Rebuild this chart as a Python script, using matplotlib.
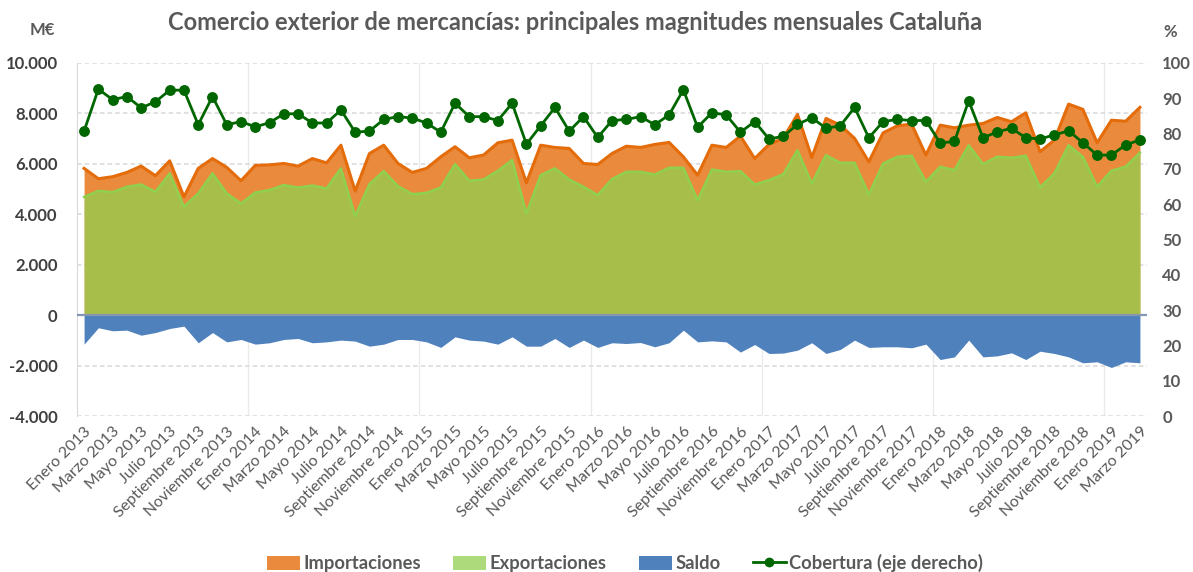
import matplotlib
matplotlib.use("Agg")
import matplotlib.pyplot as plt
from matplotlib.patches import Patch
from matplotlib.lines import Line2D
from matplotlib.ticker import FuncFormatter, MultipleLocator

plt.rcParams['font.family'] = ['Lato', 'DejaVu Sans']

# Meses de enero 2013 a marzo 2019 (millones de euros)
meses = ['Enero', 'Febrero', 'Marzo', 'Abril', 'Mayo', 'Junio', 'Julio',
         'Agosto', 'Septiembre', 'Octubre', 'Noviembre', 'Diciembre']
anios = [2013, 2014, 2015, 2016, 2017, 2018, 2019]

importaciones = [5820, 5410, 5490, 5660, 5910, 5530, 6120, 4690, 5820, 6210, 5860, 5330,
                 5940, 5960, 6015, 5910, 6210, 6040, 6740, 4920, 6410, 6740, 6015, 5660,
                 5820, 6280, 6680, 6240, 6350, 6835, 6940, 5250, 6740, 6650, 6610, 6015,
                 5975, 6410, 6700, 6650, 6770, 6850, 6280, 5550, 6740, 6650, 7100, 6210,
                 6770, 7020, 7960, 6250, 7800, 7535, 7010, 6080, 7230, 7510, 7575, 6350,
                 7535, 7430, 7535, 7600, 7840, 7670, 8025, 6480, 6940, 8370, 8160, 6835,
                 7730, 7690, 8240]

exportaciones = [4690, 4930, 4880, 5090, 5180, 4890, 5620, 4300, 4825, 5620, 4825, 4430,
                 4865, 4960, 5160, 5060, 5140, 5025, 5820, 3930, 5195, 5710, 5115, 4800,
                 4850, 5060, 5990, 5330, 5380, 5725, 6150, 4030, 5550, 5820, 5380, 5090,
                 4760, 5395, 5685, 5685, 5580, 5845, 5845, 4560, 5775, 5685, 5710, 5180,
                 5355, 5585, 6545, 5220, 6345, 6040, 6040, 4785, 6015, 6280, 6320, 5290,
                 5885, 5750, 6740, 5990, 6280, 6240, 6320, 5065, 5620, 6740, 6280, 5090,
                 5725, 5885, 6440]

saldo = [-1150, -500, -620, -595, -795, -690, -530, -435, -1095, -690, -1060, -965,
         -1150, -1095, -965, -925, -1095, -1060, -990, -1030, -1230, -1150, -965, -965,
         -1060, -1280, -860, -990, -1030, -1150, -860, -1230, -1230, -925, -1280, -990,
         -1280, -1095, -1125, -1085, -1255, -1095, -595, -1060, -1020, -1060, -1465, -1165,
         -1520, -1505, -1390, -1095, -1520, -1360, -990, -1280, -1255, -1255, -1295, -1150,
         -1760, -1655, -990, -1655, -1615, -1495, -1760, -1430, -1520, -1655, -1890, -1850,
         -2075, -1850, -1890]

cobertura = [80.7, 92.6, 89.6, 90.5, 87.3, 89.0, 92.3, 92.3, 82.5, 90.5, 82.5, 83.4,
             81.9, 83.1, 85.6, 85.6, 83.0, 83.0, 86.7, 80.4, 80.7, 84.0, 84.8, 84.4,
             83.0, 80.4, 88.6, 84.8, 84.8, 83.7, 88.6, 77.0, 82.2, 87.4, 80.7, 84.8,
             78.9, 83.7, 84.0, 84.8, 82.5, 85.3, 92.4, 81.8, 85.9, 85.3, 80.4, 83.4,
             78.5, 79.2, 82.6, 84.5, 81.5, 82.2, 87.4, 78.8, 83.4, 84.0, 83.7, 83.7,
             77.3, 77.8, 89.3, 78.8, 80.5, 81.5, 78.8, 78.5, 79.6, 80.8, 77.4, 73.9,
             73.9, 76.8, 78.2]

n = len(importaciones)
x = list(range(n))
etiquetas = [f"{meses[i % 12]} {anios[i // 12]}" for i in x]

gris = '#595959'
fig = plt.figure(figsize=(11.93, 5.72), dpi=100)
ax = fig.add_axes([0.0645, 0.2727, 0.897, 0.6172])

ax.fill_between(x, 0, importaciones, color='#EA8A3C', lw=0, zorder=2)
ax.plot(x, importaciones, color='#E46C0A', lw=2.2, zorder=3)
ax.fill_between(x, 0, exportaciones, color='#92D050', alpha=0.75, lw=0, zorder=4)
ax.plot(x, exportaciones, color='#8FD14F', lw=1.8, zorder=5)
ax.fill_between(x, 0, saldo, color='#4F81BD', lw=0, zorder=4)
ax.axhline(0, color='#8497B0', lw=1.6, zorder=6)

ax.set_xlim(-0.5, n - 0.5)
ax.set_ylim(-4000, 10000)
ax.yaxis.set_major_locator(MultipleLocator(2000))
ax.yaxis.set_major_formatter(FuncFormatter(lambda v, p: f"{int(v):,}".replace(',', '.')))
ax.grid(axis='y', color='#D9D9D9', ls=(0, (3, 2)), lw=1.1, zorder=0)
for k in range(12, n, 12):
    ax.axvline(k - 0.5, color='#EBEBEB', lw=1.0, zorder=0)

ax.set_xticks(x[::2])
ax.set_xticklabels(etiquetas[::2], rotation=45, ha='right', rotation_mode='anchor',
                   fontsize=11.5, color=gris)
ax.tick_params(axis='x', length=0, pad=6)
ax.tick_params(axis='y', length=0, pad=14, labelsize=12, labelcolor='#404040')
for t in ax.get_yticklabels():
    t.set_fontweight('bold')
for s in ['top', 'right', 'bottom']:
    ax.spines[s].set_visible(False)
ax.spines['left'].set_color('#D9D9D9')

ax2 = ax.twinx()
ax2.plot(x, cobertura, color='#006600', lw=2.0, marker='o', markersize=6.8, zorder=7)
ax2.set_ylim(0, 100)
ax2.yaxis.set_major_locator(MultipleLocator(10))
ax2.tick_params(axis='y', length=0, pad=11, labelsize=12, labelcolor=gris)
for t in ax2.get_yticklabels():
    t.set_fontweight('bold')
for s in ax2.spines.values():
    s.set_visible(False)

fig.text(575 / 1193, 1 - 23 / 572, 'Comercio exterior de mercancías: principales magnitudes mensuales Cataluña',
         ha='center', va='center', fontsize=17, fontweight='bold', color=gris)
fig.text(42 / 1193, 1 - 30 / 572, 'M€', ha='center', va='center', fontsize=12,
         fontweight='bold', color=gris)
fig.text(1170 / 1193, 1 - 32 / 572, '%', ha='center', va='center', fontsize=12,
         fontweight='bold', color=gris)

handles = [Patch(color='#EA8A3C', lw=0), Patch(color='#92D050', alpha=0.75, lw=0),
           Patch(color='#4F81BD', lw=0),
           Line2D([], [], color='#006600', lw=2.0, marker='o', markersize=6)]
nombres = ['Importaciones', 'Exportaciones', 'Saldo', 'Cobertura (eje derecho)']
leg = fig.legend(handles, nombres, loc='center', bbox_to_anchor=(625 / 1193, 1 - 563 / 572),
                 ncol=4, frameon=False, handlelength=1.8, handleheight=0.8,
                 handletextpad=0.2, columnspacing=1.75, prop={'size': 13.2, 'weight': 'bold'})
for t in leg.get_texts():
    t.set_color(gris)

fig.savefig('out.png', dpi=100)
